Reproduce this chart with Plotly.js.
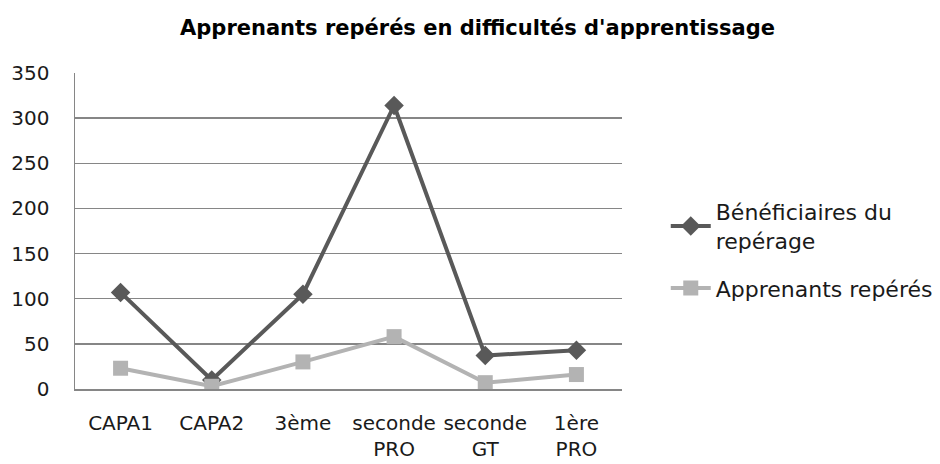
<!DOCTYPE html>
<html>
<head>
<meta charset="utf-8">
<script src="https://cdn.plot.ly/plotly-3.0.1.min.js"></script>
<style>html,body{margin:0;padding:0;background:#fff;}#chart{width:940px;height:464px;}</style>
</head>
<body>
<div id="chart"></div>
<script>
const categories = ["CAPA1", "CAPA2", "3ème", "seconde<br>PRO", "seconde<br>GT", "1ère<br>PRO"];
const beneficiaires = [107, 10, 105, 314, 37, 43];
const apprenants = [23, 3, 30, 58, 7, 16];
const seriesNames = ["Bénéficiaires du<br>repérage", "Apprenants repérés"];
const yTicks = [0, 50, 100, 150, 200, 250, 300, 350];

const font = "DejaVu Sans, sans-serif";
const traces = [
  {
    x: categories, y: beneficiaires, name: seriesNames[0], legendgroup: "a", type: "scatter", mode: "lines+markers",
    line: {color: "#595959", width: 4},
    marker: {symbol: "diamond", size: 15, color: "#595959"}
  },
  {
    x: categories, y: apprenants, name: seriesNames[1], legendgroup: "b", type: "scatter", mode: "lines+markers",
    line: {color: "#b3b3b3", width: 4},
    marker: {symbol: "square", size: 15, color: "#b3b3b3"}
  }
];
const layout = {
  width: 940, height: 464,
  margin: {l: 75, r: 318, t: 73, b: 75, autoexpand: false},
  paper_bgcolor: "#fff", plot_bgcolor: "#fff",
  font: {family: font, size: 20, color: "#1a1a1a"},
  title: {text: "Apprenants repérés en difficultés d'apprentissage", font: {family: font, size: 21, weight: "bold", color: "#000"}, x: 0.508, xanchor: "center", y: 0.94, yanchor: "middle"},
  xaxis: {type: "category", showgrid: false, showline: true, linecolor: "#868686", linewidth: 1.5, ticks: "", tickfont: {family: font, size: 20}, ticklabelstandoff: 15, fixedrange: true, range: [-0.5, 5.5]},
  yaxis: {range: [0, 350], tickvals: yTicks, showgrid: true, gridcolor: "#868686", gridwidth: 1.5, showline: true, linecolor: "#868686", linewidth: 1.5, zeroline: false, ticks: "", tickfont: {family: font, size: 20}, ticklabelstandoff: 20, fixedrange: true},
  showlegend: true,
  legend: {x: 1.08, y: 0.44, xanchor: "left", yanchor: "middle", font: {family: font, size: 22}, itemwidth: 40, tracegroupgap: 16, bgcolor: "rgba(0,0,0,0)"}
};
Plotly.newPlot("chart", traces, layout, {displayModeBar: false, staticPlot: true});
</script>
</body>
</html>
